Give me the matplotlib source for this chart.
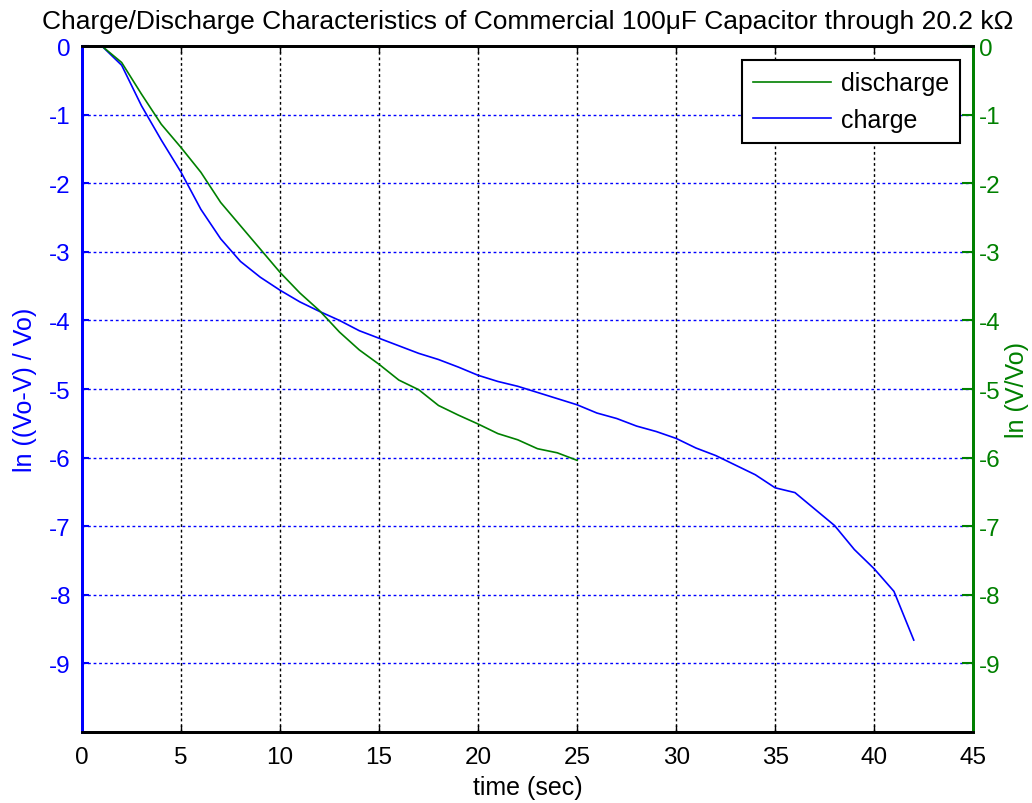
import matplotlib
matplotlib.use('Agg')
import matplotlib.pyplot as plt

plt.rcParams['font.family'] = ['Liberation Sans', 'DejaVu Sans']

# charge data (left axis)
t_charge = list(range(1, 43))
ln_charge = [0.0, -0.28, -0.87, -1.37, -1.84, -2.38, -2.81, -3.14, -3.37, -3.56,
             -3.73, -3.87, -4.0, -4.15, -4.26, -4.37, -4.48, -4.57, -4.68, -4.80,
             -4.89, -4.96, -5.05, -5.14, -5.23, -5.35, -5.43, -5.54, -5.62, -5.72,
             -5.86, -5.97, -6.11, -6.25, -6.44, -6.51, -6.75, -6.99, -7.34, -7.62,
             -7.95, -8.66]

# discharge data (right axis)
t_dis = list(range(1, 26))
ln_dis = [0.0, -0.24, -0.70, -1.14, -1.48, -1.84, -2.28, -2.62, -2.96, -3.30,
          -3.60, -3.86, -4.17, -4.43, -4.64, -4.87, -5.01, -5.24, -5.38, -5.51,
          -5.65, -5.74, -5.87, -5.93, -6.04]

xt = [0, 5, 10, 15, 20, 25, 30, 35, 40, 45]
yt = [0, -1, -2, -3, -4, -5, -6, -7, -8, -9]

blue = '#0000ff'
green = '#008000'

fig = plt.figure(figsize=(10.32, 8.04), dpi=100)
ax = fig.add_axes([0.0795, 0.0883, 0.8635, 0.8532])
ax2 = ax.twinx()

l1, = ax.plot(t_charge, ln_charge, color=blue, lw=1.2, label='charge')
l2, = ax2.plot(t_dis, ln_dis, color=green, lw=1.2, label='discharge')

for a in (ax, ax2):
    a.set_xlim(0, 45)
    a.set_ylim(-10, 0)
    a.set_yticks(yt)
    a.set_yticklabels([str(v) for v in yt])
    for s in a.spines.values():
        s.set_linewidth(2)
ax.set_xticks(xt)
ax.tick_params(axis='x', direction='in', length=5, width=1, labelsize=17.5, pad=10, colors='black', top=True)
ax.tick_params(axis='y', direction='in', length=5, width=1.5, labelsize=17.5, pad=8, colors=blue)
ax2.tick_params(axis='y', direction='in', length=8, width=1.5, labelsize=17.5, pad=4, colors=green)

ax.spines['left'].set_color(blue)
ax2.spines['left'].set_color(blue)
ax2.spines['right'].set_color(green)
ax.spines['right'].set_color(green)

ax.xaxis.grid(True, color='black', linestyle=(0, (2, 2)), linewidth=1)
ax.yaxis.grid(True, color=blue, linestyle=(0, (2, 2)), linewidth=1)
ax.set_axisbelow(True)

ax.set_xlabel('time (sec)', fontsize=18, labelpad=5)
ax.set_ylabel('ln ((Vo-V) / Vo)', fontsize=18, color=blue, labelpad=9)
ax2.set_ylabel('ln (V/Vo)', fontsize=18, color=green, labelpad=3)
ax.set_title('Charge/Discharge Characteristics of Commercial 100\u03bcF Capacitor through 20.2 k\u03a9',
             fontsize=19, pad=13)

leg = ax2.legend(handles=[l2, l1], loc='upper right', bbox_to_anchor=(0.9854, 0.9796),
                 borderaxespad=0, fontsize=18, frameon=True, fancybox=False,
                 handlelength=3.1, handletextpad=0.4, borderpad=0.45, labelspacing=0.5)
leg.get_frame().set_edgecolor('black')
leg.get_frame().set_linewidth(1.5)
leg.get_frame().set_alpha(1)

fig.savefig('out.png', dpi=100)
